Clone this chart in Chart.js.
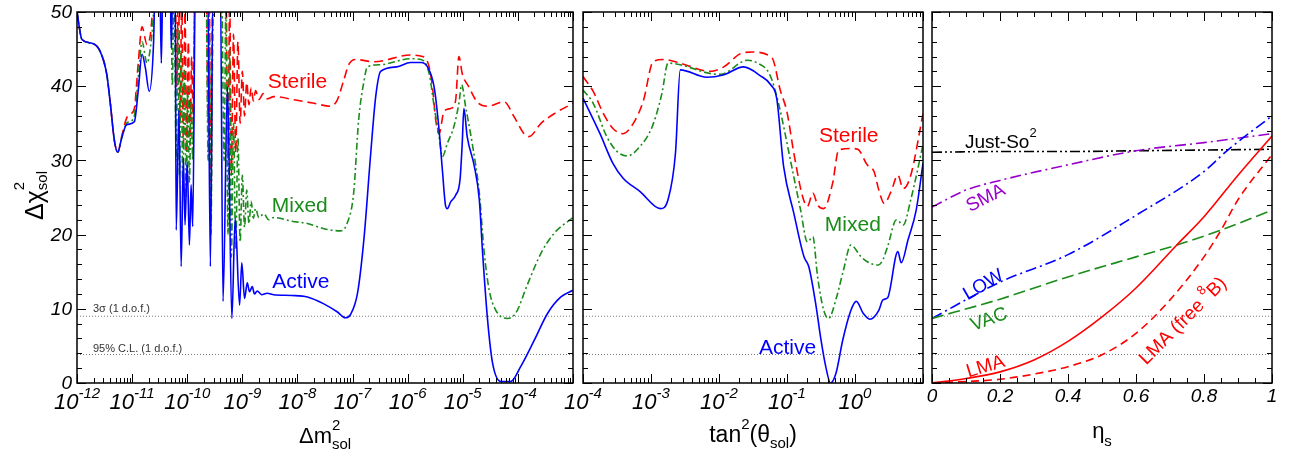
<!DOCTYPE html>
<html>
<head>
<meta charset="utf-8">
<script src="https://cdn.jsdelivr.net/npm/chart.js@4.4.1/dist/chart.umd.min.js"></script>
<style>
  body { margin: 0; background: #fff; }
  #wrap { position: relative; width: 1297px; height: 453px; }
  canvas { position: absolute; left: 0; top: 0; }
</style>
</head>
<body>
<div id="wrap">
  <canvas id="p1" width="1297" height="453"></canvas>
  <canvas id="p2" width="1297" height="453"></canvas>
  <canvas id="p3" width="1297" height="453"></canvas>
</div>
<script>
// ---- data ----
// panel 1: [log10(dm2_sol), dchi2]
var dm2Active = [
  [-12.00,50.0],[-11.91,46.3],[-11.73,45.8],[-11.58,44.7],[-11.46,41.6],[-11.40,38.0],[-11.32,32.6],[-11.26,31.1],
  [-11.19,33.0],[-11.10,34.8],[-10.96,35.2],[-10.89,39.3],[-10.82,44.3],[-10.76,42.5],[-10.69,39.3],[-10.61,46.0],
  [-10.58,55],[-10.50,55],[-10.47,43.1],[-10.44,55],[-10.31,55],[-10.29,45.1],[-10.26,55],[-10.22,55],[-10.20,20.6],
  [-10.15,36.8],[-10.11,15.7],[-10.07,30.3],[-10.04,21.3],[-10.00,29.8],[-9.96,18.6],[-9.93,26.7],[-9.90,21.1],
  [-9.85,55],[-9.63,55],[-9.58,15.7],[-9.53,55],[-9.40,55],[-9.35,11.0],[-9.27,39.9],[-9.19,8.7],[-9.13,22.2],
  [-9.05,10.5],[-9.01,16.2],[-8.96,11.4],[-8.91,13.5],[-8.87,12.3],[-8.82,13.0],[-8.78,12.0],[-8.73,12.4],
  [-8.65,11.9],[-8.55,12.1],[-8.43,11.9],[-8.10,11.8],[-7.82,11.6],[-7.53,10.7],[-7.28,9.6],[-7.13,8.8],[-7.04,9.2],
  [-6.91,12.1],[-6.79,19.7],[-6.67,31.0],[-6.58,38.6],[-6.49,42.0],[-6.20,42.6],[-5.95,43.2],[-5.76,43.2],
  [-5.64,42.6],[-5.52,39.9],[-5.43,34.1],[-5.37,28.7],[-5.31,23.8],[-5.28,23.5],[-5.22,24.4],[-5.13,25.3],
  [-5.05,27.4],[-5.01,32.3],[-4.98,37.0],[-4.92,33.2],[-4.79,29.2],[-4.70,24.7],[-4.64,17.5],[-4.55,8.5],
  [-4.46,2.7],[-4.31,0.2],[-4.13,0.2],[-3.95,2.2],[-3.70,5.8],[-3.46,9.4],[-3.22,11.6],[-3.00,12.5]
];
var dm2Mixed = [
  [-12.00,50.0],[-11.91,46.3],[-11.73,45.8],[-11.58,44.7],[-11.46,41.6],[-11.40,38.0],[-11.32,32.6],[-11.26,31.1],
  [-11.19,33.0],[-11.10,35.0],[-11.03,35.3],[-10.96,36.0],[-10.89,41.0],[-10.82,46.0],[-10.73,43.1],[-10.67,45.1],
  [-10.61,50],[-10.58,55],[-10.30,55],[-10.27,40],[-10.24,55],[-10.20,30],[-10.17,48],[-10.14,28],[-10.11,45],
  [-10.08,26],[-10.05,42],[-10.02,25],[-9.99,40],[-9.96,27],[-9.93,38],[-9.90,30],[-9.86,55],[-9.66,55],[-9.62,30],
  [-9.60,48],[-9.57,20],[-9.54,45],[-9.51,55],[-9.38,55],[-9.33,30],[-9.30,50],[-9.26,20],[-9.23,45],[-9.20,17],
  [-9.16,35],[-9.12,18],[-9.08,33],[-9.04,19],[-9.00,28],[-8.96,21],[-8.92,26],[-8.88,21.5],[-8.84,24.5],
  [-8.80,22.2],[-8.76,23.5],[-8.70,22.3],[-8.61,22.8],[-8.52,22.0],[-8.43,22.3],[-8.10,21.8],[-7.82,21.5],
  [-7.52,20.8],[-7.22,20.5],[-7.10,21.5],[-6.98,25.6],[-6.89,35.4],[-6.79,40.8],[-6.73,42.6],[-6.49,42.9],
  [-5.95,43.7],[-5.76,43.6],[-5.61,41.7],[-5.52,37.3],[-5.43,33.2],[-5.37,30.5],[-5.28,32.3],[-5.16,34.6],
  [-5.07,37.7],[-5.02,40.2],[-4.95,37.3],[-4.82,31.9],[-4.70,25.6],[-4.61,17.5],[-4.52,12.5],[-4.40,9.8],
  [-4.19,8.7],[-4.04,9.4],[-3.82,13.4],[-3.58,17.5],[-3.34,20.2],[-3.00,22.3]
];
var dm2Sterile = [
  [-12.00,50.0],[-11.91,46.3],[-11.73,45.8],[-11.58,44.7],[-11.46,41.6],[-11.40,38.0],[-11.32,32.6],[-11.26,31.1],
  [-11.19,33.2],[-11.10,35.7],[-11.02,36.3],[-10.96,37.0],[-10.89,43.0],[-10.82,48.0],[-10.73,45.6],[-10.67,46.9],
  [-10.61,52],[-10.58,55],[-10.22,55],[-10.19,40],[-10.16,55],[-10.13,35],[-10.10,52],[-10.07,32],[-10.04,50],
  [-10.01,30],[-9.98,46],[-9.95,32],[-9.92,44],[-9.89,35],[-9.86,55],[-9.66,55],[-9.62,35],[-9.60,52],[-9.57,24],
  [-9.54,52],[-9.51,55],[-9.30,55],[-9.26,30],[-9.23,52],[-9.20,28],[-9.16,47],[-9.12,31],[-9.08,46],[-9.04,35],
  [-9.00,42],[-8.96,36],[-8.92,40.5],[-8.88,37.5],[-8.84,39.8],[-8.80,38.0],[-8.76,39.4],[-8.70,38.2],[-8.62,39.0],
  [-8.55,38.3],[-8.43,38.6],[-8.01,38.1],[-7.70,37.7],[-7.40,37.3],[-7.28,38.1],[-7.16,40.8],[-7.07,42.9],
  [-6.95,43.6],[-6.61,43.3],[-5.95,44.2],[-5.79,44.1],[-5.64,43.3],[-5.55,39.9],[-5.49,35.4],[-5.43,33.6],
  [-5.34,36.6],[-5.22,37.0],[-5.13,38.1],[-5.07,44.0],[-5.01,41.7],[-4.89,39.9],[-4.73,37.8],[-4.55,37.3],
  [-4.25,37.9],[-4.07,35.9],[-3.89,33.6],[-3.80,33.2],[-3.58,35.0],[-3.34,36.3],[-3.00,37.7]
];

// panel 2: [log10(tan^2 theta_sol), dchi2]
var tanActive = [
  [-4.00,38.4],[-3.75,33.6],[-3.56,29.6],[-3.41,27.6],[-3.16,25.8],[-2.86,23.5],[-2.75,24.7],[-2.64,31.0],
  [-2.57,42.2],[-2.18,41.2],[-1.94,41.5],[-1.64,42.6],[-1.39,41.4],[-1.24,40.2],[-1.15,38.3],[-1.05,29.2],
  [-0.90,22.9],[-0.75,17.0],[-0.68,15.7],[-0.58,10.8],[-0.50,5.8],[-0.43,2.2],[-0.36,0.0],[-0.28,1.3],
  [-0.18,5.8],[-0.06,9.8],[0.02,11.0],[0.12,9.4],[0.22,8.6],[0.35,9.8],[0.41,11.2],[0.48,11.5],[0.63,17.7],
  [0.68,16.2],[0.78,19.3],[0.90,23.3],[1.00,29.6]
];
var tanMixed = [
  [-4.00,39.5],[-3.85,37.7],[-3.65,33.2],[-3.50,31.2],[-3.35,30.6],[-3.16,31.9],[-2.98,34.6],[-2.84,39.0],
  [-2.75,43.1],[-2.57,42.9],[-2.13,41.7],[-1.98,41.6],[-1.58,43.5],[-1.43,43.1],[-1.25,41.5],[-1.12,37.5],
  [-0.94,29.6],[-0.80,23.3],[-0.70,19.0],[-0.62,19.7],[-0.55,14.3],[-0.46,9.8],[-0.39,8.7],[-0.27,11.6],
  [-0.17,15.2],[-0.06,18.6],[0.09,17.0],[0.23,16.1],[0.34,15.9],[0.41,16.6],[0.48,18.4],[0.61,22.0],
  [0.71,21.3],[0.82,24.7],[1.00,32.1]
];
var tanSterile = [
  [-4.00,41.3],[-3.85,39.3],[-3.70,36.3],[-3.56,34.3],[-3.41,33.6],[-3.26,35.0],[-3.11,38.1],[-2.97,43.3],
  [-2.82,43.6],[-2.57,43.1],[-2.13,42.0],[-1.93,42.6],[-1.68,44.4],[-1.51,44.6],[-1.22,43.8],[-1.10,39.5],
  [-1.00,36.5],[-0.90,31.0],[-0.77,25.1],[-0.70,23.8],[-0.62,25.6],[-0.55,24.0],[-0.46,23.5],[-0.33,26.9],
  [-0.24,31.4],[-0.06,31.6],[0.04,31.5],[0.18,29.4],[0.28,28.5],[0.35,26.0],[0.43,24.2],[0.53,25.8],
  [0.63,28.0],[0.71,26.2],[0.82,28.0],[1.00,36.3]
];

// panel 3: [eta_s, dchi2]
var etaJustSo = [[0,31.1],[0.2,31.2],[0.4,31.2],[0.6,31.3],[0.8,31.4],[1,31.5]];
var etaSMA = [[0,23.7],[0.1,26.0],[0.2,27.3],[0.4,29.4],[0.6,31.3],[0.8,32.4],[1,33.6]];
var etaLOW = [[0,8.7],[0.2,13.6],[0.4,17.3],[0.6,22.6],[0.8,28.5],[0.87,31.4],[1,36.0]];
var etaVAC = [[0,8.7],[0.2,11.3],[0.4,14.3],[0.6,17.0],[0.72,18.6],[0.85,20.6],[1,23.3]];
var etaLMA = [[0,0],[0.1,0.6],[0.2,1.5],[0.3,3.1],[0.4,5.6],[0.5,8.9],[0.6,12.8],[0.72,18.6],[0.8,22.4],[0.9,28.0],[1,33.3]];
var etaLMAfree = [[0,0],[0.1,0.2],[0.2,0.5],[0.3,1.2],[0.4,2.2],[0.5,3.8],[0.6,6.7],[0.7,11.2],[0.8,17.0],[0.85,20.6],[0.9,24.7],[1,30.8]];

// axes
var yTicks = [0, 10, 20, 30, 40, 50];
var dm2Decades = [-12, -11, -10, -9, -8, -7, -6, -5, -4];
var tanDecades = [-4, -3, -2, -1, 0];
var etaTicks = [0, 0.2, 0.4, 0.6, 0.8, 1];
var cl3sigma = 9, cl95 = 3.84;

// ---- drawing ----
var TICKF = '"Liberation Sans", Arial, sans-serif';
var RED = '#ff0000', BLUE = '#0000ff', GREEN = '#1a8c1a', PURPLE = '#9900cc';

function pts(arr, isLog) {
  return arr.map(function (p) { return { x: isLog ? Math.pow(10, p[0]) : p[0], y: p[1] }; });
}

function line(data, color, dash, width) {
  return { data: data, borderColor: color, borderDash: dash || [], borderWidth: width || 1.6,
           pointRadius: 0, fill: false, cubicInterpolationMode: 'monotone' };
}

function refLine(x0, x1, v) {
  return { data: [{ x: x0, y: v }, { x: x1, y: v }], borderColor: '#777', borderDash: [1, 2],
           borderWidth: 1, pointRadius: 0, fill: false };
}

// draw a row of text pieces (for super/subscripts), optionally rotated
function rich(ctx, x, y, rot, parts, color, align) {
  ctx.save();
  ctx.translate(x, y);
  ctx.rotate(rot * Math.PI / 180);
  ctx.fillStyle = color;
  ctx.textBaseline = 'alphabetic';
  ctx.textAlign = 'left';
  var w = 0;
  parts.forEach(function (p) { ctx.font = p.f; if (!p.stay) w += ctx.measureText(p.t).width; });
  var cx = align === 'center' ? -w / 2 : (align === 'right' ? -w : 0);
  parts.forEach(function (p) {
    ctx.font = p.f;
    ctx.fillText(p.t, cx, p.dy || 0);
    if (!p.stay) cx += ctx.measureText(p.t).width;
  });
  ctx.restore();
}

var deco = {
  id: 'deco',
  afterDatasetsDraw: function (chart, args, o) {
    var ctx = chart.ctx, a = chart.chartArea, xs = chart.scales.x, ys = chart.scales.y;
    ctx.save();
    ctx.strokeStyle = '#000';
    ctx.lineWidth = 1;
    function seg(x0, y0, x1, y1) { ctx.beginPath(); ctx.moveTo(x0, y0); ctx.lineTo(x1, y1); ctx.stroke(); }
    // y ticks on both sides
    for (var v = 0; v <= 50; v += 2) {
      var y = Math.round(ys.getPixelForValue(v)) + 0.5;
      var len = v % 10 === 0 ? 9 : 5;
      seg(a.left, y, a.left + len, y);
      seg(a.right, y, a.right - len, y);
    }
    // x ticks top and bottom
    var xt = [];
    if (o.log) {
      for (var e = o.logMin; e < o.logMax; e++) {
        for (var m = 1; m <= 9; m++) xt.push([m * Math.pow(10, e), m === 1]);
      }
      xt.push([Math.pow(10, o.logMax), true]);
    } else {
      for (var i = 0; i <= 20; i++) xt.push([i * 0.05, i % 4 === 0]);
    }
    xt.forEach(function (t) {
      var x = Math.round(xs.getPixelForValue(t[0])) + 0.5;
      var l = t[1] ? 9 : 5;
      seg(x, a.bottom, x, a.bottom - l);
      seg(x, a.top, x, a.top + l);
    });
    // frame
    ctx.lineWidth = 1.5;
    ctx.strokeRect(a.left, a.top, a.right - a.left, a.bottom - a.top);

    // y tick labels
    if (o.yLabels) {
      ctx.fillStyle = '#000';
      ctx.font = 'italic 19px ' + TICKF;
      ctx.textAlign = 'right';
      ctx.textBaseline = 'middle';
      yTicks.forEach(function (v) { ctx.fillText(String(v), a.left - 5, ys.getPixelForValue(v) + 1); });
    }
    // x tick labels
    if (o.log) {
      o.decades.forEach(function (e) {
        rich(ctx, xs.getPixelForValue(Math.pow(10, e)), a.bottom + 26, 0, [
          { t: '10', f: 'italic 22px ' + TICKF },
          { t: String(e), f: 'italic 15px ' + TICKF, dy: -11 }
        ], '#000', 'center');
      });
    } else {
      ctx.fillStyle = '#000';
      ctx.font = 'italic 19px ' + TICKF;
      ctx.textAlign = 'center';
      ctx.textBaseline = 'alphabetic';
      etaTicks.forEach(function (v) { ctx.fillText(String(v), xs.getPixelForValue(v), a.bottom + 19); });
    }
    // curve labels, placed in data coordinates
    (o.labels || []).forEach(function (L) {
      var px = xs.getPixelForValue(L.x), py = ys.getPixelForValue(L.y);
      ctx.save();
      ctx.translate(px, py);
      ctx.rotate((L.rot || 0) * Math.PI / 180);
      rich(ctx, 0, 7, 0, L.parts, L.color, L.align || 'center');
      ctx.restore();
    });
    if (o.extra) o.extra(ctx, a, xs, ys);
    ctx.restore();
  }
};

function panel(id, left, right, xScale, datasets, decoOpts) {
  return new Chart(document.getElementById(id), {
    type: 'line',
    data: { datasets: datasets },
    options: {
      responsive: false,
      animation: false,
      events: [],
      layout: { padding: { left: left, right: 1297 - right, top: 12, bottom: 70 } },
      plugins: { legend: { display: false }, tooltip: { enabled: false }, deco: decoOpts },
      scales: {
        x: Object.assign({ display: false }, xScale),
        y: { type: 'linear', min: 0, max: 50, display: false }
      }
    },
    plugins: [deco]
  });
}

function lab(t, size) { return { t: t, f: size + 'px ' + TICKF }; }

// panel 1: dm2
panel('p1', 77, 573, { type: 'logarithmic', min: 1e-12, max: 1e-3 }, [
  line(pts(dm2Active, true), BLUE),
  line(pts(dm2Mixed, true), GREEN, [7, 3, 2, 3]),
  line(pts(dm2Sterile, true), RED, [9, 5]),
  refLine(1e-12, 1e-3, cl3sigma),
  refLine(1e-12, 1e-3, cl95)
], {
  log: true, logMin: -12, logMax: -3, decades: dm2Decades, yLabels: true,
  labels: [
    { x: 1e-8, y: 40.7, parts: [lab('Sterile', 21)], color: RED },
    { x: 1.1e-8, y: 24.0, parts: [lab('Mixed', 21)], color: GREEN },
    { x: 1.15e-8, y: 13.7, parts: [lab('Active', 21)], color: BLUE }
  ],
  extra: function (ctx, a, xs, ys) {
    ctx.fillStyle = '#333';
    ctx.font = '11px ' + TICKF;
    ctx.textAlign = 'left';
    ctx.textBaseline = 'alphabetic';
    ctx.fillText('3\u03c3 (1 d.o.f.)', a.left + 16, ys.getPixelForValue(cl3sigma) - 4);
    ctx.fillText('95% C.L. (1 d.o.f.)', a.left + 16, ys.getPixelForValue(cl95) - 3);
    // axis titles
    rich(ctx, 43, 220, -90, [
      { t: '\u0394\u03c7', f: '25px ' + TICKF },
      { t: '2', f: '15px ' + TICKF, dy: -19, stay: true },
      { t: 'sol', f: '15px ' + TICKF, dy: 4 }
    ], '#000', 'left');
    rich(ctx, 299, 443, 0, [
      { t: '\u0394m', f: '22px ' + TICKF },
      { t: '2', f: '15px ' + TICKF, dy: -13, stay: true },
      { t: 'sol', f: '15px ' + TICKF, dy: 6 }
    ], '#000', 'left');
  }
});

// panel 2: tan^2
panel('p2', 583, 923, { type: 'logarithmic', min: 1e-4, max: 10 }, [
  line(pts(tanActive, true), BLUE),
  line(pts(tanMixed, true), GREEN, [7, 3, 2, 3]),
  line(pts(tanSterile, true), RED, [9, 5]),
  refLine(1e-4, 10, cl3sigma),
  refLine(1e-4, 10, cl95)
], {
  log: true, logMin: -4, logMax: 1, decades: tanDecades, yLabels: false,
  labels: [
    { x: 0.81, y: 33.4, parts: [lab('Sterile', 21)], color: RED },
    { x: 0.93, y: 21.4, parts: [lab('Mixed', 21)], color: GREEN },
    { x: 0.102, y: 4.85, parts: [lab('Active', 21)], color: BLUE }
  ],
  extra: function (ctx) {
    rich(ctx, 753, 442, 0, [
      { t: 'tan', f: '23px ' + TICKF },
      { t: '2', f: '15px ' + TICKF, dy: -13 },
      { t: '(\u03b8', f: '23px ' + TICKF },
      { t: 'sol', f: '15px ' + TICKF, dy: 6 },
      { t: ')', f: '23px ' + TICKF }
    ], '#000', 'center');
  }
});

// panel 3: eta_s
panel('p3', 932, 1272, { type: 'linear', min: 0, max: 1 }, [
  line(pts(etaLMA, false), RED),
  line(pts(etaLMAfree, false), RED, [8, 5]),
  line(pts(etaVAC, false), GREEN, [12, 5]),
  line(pts(etaLOW, false), BLUE, [11, 4, 2, 4]),
  line(pts(etaSMA, false), PURPLE, [11, 4, 2, 4]),
  line(pts(etaJustSo, false), '#000', [10, 3, 2, 3, 2, 3]),
  refLine(0, 1, cl3sigma),
  refLine(0, 1, cl95)
], {
  log: false, yLabels: false,
  labels: [
    { x: 0.097, y: 32.6, parts: [lab('Just-So', 19), { t: '2', f: '13px ' + TICKF, dy: -11 }], color: '#000', align: 'left' },
    { x: 0.156, y: 25.1, rot: -27, parts: [lab('SMA', 19)], color: PURPLE },
    { x: 0.149, y: 13.4, rot: -30, parts: [lab('LOW', 19)], color: BLUE },
    { x: 0.166, y: 8.76, rot: -20, parts: [lab('VAC', 19)], color: GREEN },
    { x: 0.156, y: 2.4, rot: -17, parts: [lab('LMA', 19)], color: RED },
    { x: 0.735, y: 8.5, rot: -45, parts: [lab('LMA (free ', 19), { t: '8', f: '13px ' + TICKF, dy: -10 }, lab('B)', 19)], color: RED }
  ],
  extra: function (ctx) {
    rich(ctx, 1102, 438, 0, [
      { t: '\u03b7', f: '22px ' + TICKF },
      { t: 's', f: '15px ' + TICKF, dy: 8 }
    ], '#000', 'center');
  }
});
</script>
</body>
</html>
